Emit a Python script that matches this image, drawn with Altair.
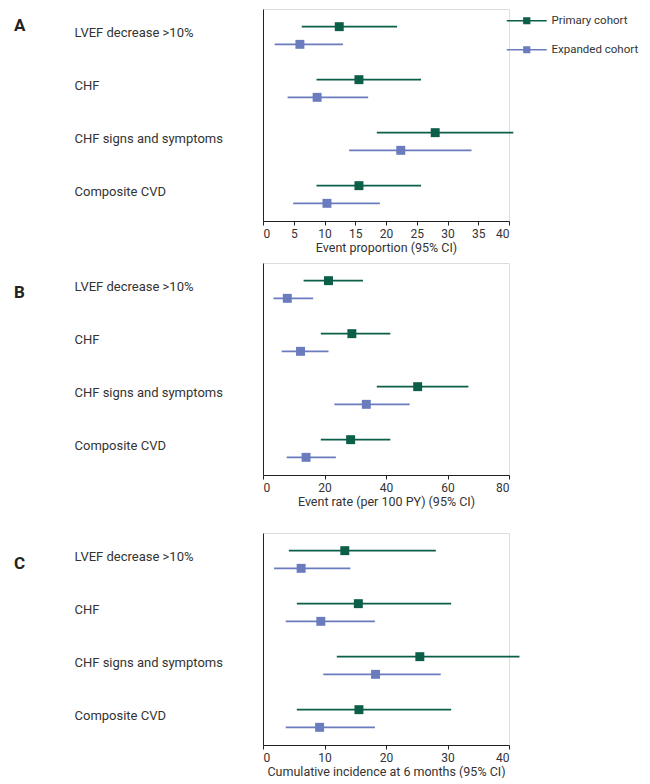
import altair as alt
import pandas as pd

categories = ["LVEF decrease >10%", "CHF", "CHF signs and symptoms", "Composite CVD"]
cohorts = ["Primary cohort", "Expanded cohort"]
colors = ["#0b5e47", "#6a7cbd"]

# Panel A: event proportion
a_primary_est = [12.4, 15.6, 28.0, 15.6]
a_primary_lo = [6.3, 8.7, 18.5, 8.7]
a_primary_hi = [21.8, 25.7, 40.7, 25.7]
a_expanded_est = [6.0, 8.8, 22.4, 10.4]
a_expanded_lo = [1.9, 4.0, 14.0, 4.9]
a_expanded_hi = [13.0, 17.1, 33.9, 19.0]

# Panel B: event rate per 100 PY
b_primary_est = [21.3, 28.9, 50.3, 28.5]
b_primary_lo = [13.2, 18.8, 37.0, 18.8]
b_primary_hi = [32.5, 41.4, 66.8, 41.4]
b_expanded_est = [7.9, 12.2, 33.6, 14.0]
b_expanded_lo = [3.4, 6.1, 23.2, 7.7]
b_expanded_hi = [16.3, 21.3, 47.7, 23.7]

# Panel C: cumulative incidence at 6 months
c_primary_est = [13.3, 15.5, 25.5, 15.6]
c_primary_lo = [4.2, 5.5, 12.0, 5.5]
c_primary_hi = [28.1, 30.6, 41.7, 30.6]
c_expanded_est = [6.2, 9.4, 18.3, 9.2]
c_expanded_lo = [1.8, 3.7, 9.8, 3.7]
c_expanded_hi = [14.2, 18.2, 28.9, 18.2]

FONT = "Roboto"
TXT = "#333333"


def make_df(pe, pl, ph, ee, el, eh):
    rows = []
    for i, c in enumerate(categories):
        rows.append({"category": c, "cohort": cohorts[0], "est": pe[i], "lo": pl[i], "hi": ph[i]})
        rows.append({"category": c, "cohort": cohorts[1], "est": ee[i], "lo": el[i], "hi": eh[i]})
    return pd.DataFrame(rows)


# legend glyph: a horizontal line with a small square in the middle
legend_path = ("M-4,-0.16H4V0.16H-4Z "
               "M-0.72,-0.72H0.72V0.72H-0.72Z")


def panel(df, letter, xtitle, domain, tickvals, show_legend, letter_dy):
    if show_legend:
        leg = alt.Legend(
            title=None, orient="none", legendX=258, legendY=6,
            symbolType=legend_path, symbolSize=100, symbolStrokeWidth=0,
            symbolOpacity=1, labelFont=FONT, labelFontSize=11.5, labelColor=TXT,
            labelOffset=19, rowPadding=16,
        )
    else:
        leg = None
    color = alt.Color("cohort:N", sort=cohorts,
                      scale=alt.Scale(domain=cohorts, range=colors), legend=leg)
    y = alt.Y("category:N", sort=categories, title=None,
              scale=alt.Scale(paddingInner=0, paddingOuter=0),
              axis=alt.Axis(labelAlign="left", labelPadding=189, ticks=False, tickSize=0,
                            labelFont=FONT, labelFontSize=13, labelColor=TXT,
                            domainColor="#222222", domainWidth=1, labelBaseline="middle",
                            labelOffset=-3))
    yoff = alt.YOffset("cohort:N", sort=cohorts,
                       scale=alt.Scale(paddingOuter=0.5, paddingInner=0))
    xscale = alt.Scale(domain=domain, nice=False)
    xaxis = alt.Axis(values=tickvals, title=xtitle, grid=False, tickSize=4,
                     tickColor="#222222", domainColor="#222222", labelFont=FONT,
                     labelFontSize=12, labelColor=TXT, titleFont=FONT, titleFontSize=12.5,
                     titleFontWeight="normal", titleColor=TXT, titlePadding=2, labelPadding=3,
                     labelOverlap=False)
    base = alt.Chart(df).encode(y=y, yOffset=yoff, color=color)
    rules = base.mark_rule(strokeWidth=1.6).encode(
        x=alt.X("lo:Q", scale=xscale, axis=xaxis), x2="hi:Q")
    pts = base.mark_square(size=80, opacity=1).encode(
        x=alt.X("est:Q", scale=xscale, axis=xaxis))
    lab = alt.Chart(pd.DataFrame({"letter": [letter], "category": [categories[0]]})).mark_text(
        font=FONT, fontSize=17, fontWeight="bold", color="#222222", align="left",
        baseline="middle", dy=letter_dy,
    ).encode(x=alt.value(-249), y=alt.Y("category:N", sort=categories), text="letter:N")
    return alt.layer(rules, pts, lab).properties(width=246, height=212)


df_a = make_df(a_primary_est, a_primary_lo, a_primary_hi, a_expanded_est, a_expanded_lo, a_expanded_hi)
df_b = make_df(b_primary_est, b_primary_lo, b_primary_hi, b_expanded_est, b_expanded_lo, b_expanded_hi)
df_c = make_df(c_primary_est, c_primary_lo, c_primary_hi, c_expanded_est, c_expanded_lo, c_expanded_hi)

pa = panel(df_a, "A", "Event proportion (95% CI)", [0, 40], [0, 5, 10, 15, 20, 25, 30, 35, 40], True, -10)
pb = panel(df_b, "B", "Event rate (per 100 PY) (95% CI)", [0, 80], [0, 20, 40, 60, 80], False, 3)
pc = panel(df_c, "C", "Cumulative incidence at 6 months (95% CI)", [0, 40], [0, 10, 20, 30, 40], False, 4)

chart = alt.vconcat(
    alt.vconcat(pa, pb, spacing=8).resolve_legend(color="independent").resolve_scale(color="independent"),
    pc, spacing=24,
).resolve_legend(color="independent").resolve_scale(color="independent").properties(
    padding={"left": 5, "top": 0, "right": 0, "bottom": 0}
).configure_view(stroke=None).configure(background="white")

chart.save("out.html", embed_options={"renderer": "svg", "actions": False})
